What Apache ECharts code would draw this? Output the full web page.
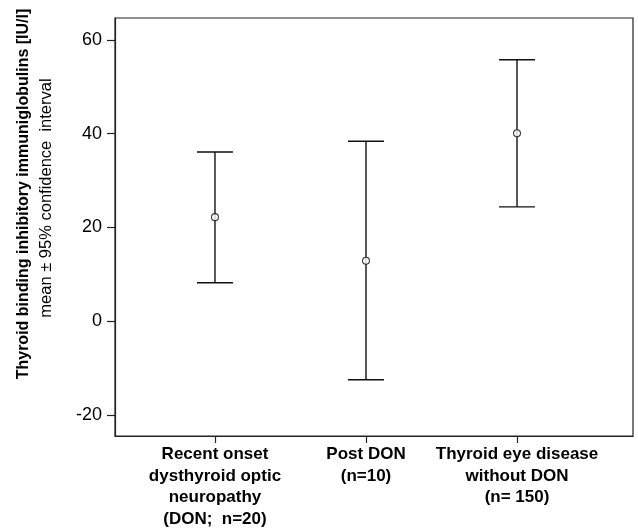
<!DOCTYPE html>
<html>
<head>
<meta charset="utf-8">
<script src="https://cdn.jsdelivr.net/npm/echarts@6/dist/echarts.min.js"></script>
<style>
html,body{margin:0;padding:0;background:#fff;}
#chart{width:638px;height:528px;}
</style>
</head>
<body>
<div id="chart"></div>
<script>
// Data
var categories = [
  "Recent onset\ndysthyroid optic\nneuropathy\n(DON;  n=20)",
  "Post DON\n(n=10)",
  "Thyroid eye disease\nwithout DON\n(n= 150)"
];
var categoryPositions = [1, 2, 3];
var means = [22.2, 12.9, 40.1];
var lowerCI = [8.2, -12.5, 24.4];
var upperCI = [36.1, 38.4, 55.8];
var yTicks = [-20, 0, 20, 40, 60];

var FONT = "'Liberation Sans', Arial, sans-serif";

var errorData = categoryPositions.map(function (x, i) { return [x, lowerCI[i], upperCI[i]]; });
var meanData = categoryPositions.map(function (x, i) { return [x, means[i]]; });

var chart = echarts.init(document.getElementById('chart'), null, { renderer: 'canvas' });
chart.setOption({
  animation: false,
  backgroundColor: '#fff',
  grid: { left: 115, right: 5, top: 18, bottom: 92, outerBoundsMode: 'none', containLabel: false, show: true, borderColor: '#222', borderWidth: 1.2, backgroundColor: 'transparent' },
  xAxis: {
    type: 'value', min: 0.338, max: 3.768,
    splitLine: { show: false },
    axisLine: { show: true, onZero: false, lineStyle: { color: '#222', width: 1.2 } },
    axisTick: { show: true, customValues: categoryPositions, length: 7, lineStyle: { color: '#222', width: 1.2 } },
    axisLabel: {
      customValues: categoryPositions,
      formatter: function (v) { return categories[Math.round(v) - 1]; },
      fontFamily: FONT, fontWeight: 'bold', fontSize: 17, lineHeight: 21.5, color: '#000', margin: 8, align: 'center'
    }
  },
  yAxis: {
    type: 'value', min: -24.5, max: 64.7,
    splitLine: { show: false },
    axisLine: { show: true, onZero: false, lineStyle: { color: '#222', width: 1.2 } },
    axisTick: { show: true, customValues: yTicks, length: 8, lineStyle: { color: '#222', width: 1.2 } },
    axisLabel: { customValues: yTicks, fontFamily: FONT, fontSize: 18, color: '#000', margin: 13 }
  },
  graphic: [
    {
      type: 'text', x: 24, y: 194, rotation: Math.PI / 2,
      style: { text: 'Thyroid binding inhibitory immuniglobulins [IU/l]', font: "bold 16px " + FONT, fill: '#000', textAlign: 'center', textVerticalAlign: 'middle' }
    },
    {
      type: 'text', x: 46, y: 198, rotation: Math.PI / 2,
      style: { text: 'mean \u00b1 95% confidence  interval', font: "16.5px " + FONT, fill: '#000', textAlign: 'center', textVerticalAlign: 'middle' }
    }
  ],
  series: [
    {
      type: 'custom',
      data: errorData,
      encode: { x: 0, y: [1, 2] },
      renderItem: function (params, api) {
        var x = api.value(0);
        var lo = api.coord([x, api.value(1)]);
        var hi = api.coord([x, api.value(2)]);
        var hw = 18;
        var st = { stroke: '#111', lineWidth: 1.4 };
        return {
          type: 'group',
          children: [
            { type: 'line', shape: { x1: lo[0], y1: lo[1], x2: hi[0], y2: hi[1] }, style: st },
            { type: 'line', shape: { x1: lo[0] - hw, y1: lo[1], x2: lo[0] + hw, y2: lo[1] }, style: st },
            { type: 'line', shape: { x1: hi[0] - hw, y1: hi[1], x2: hi[0] + hw, y2: hi[1] }, style: st }
          ]
        };
      },
      z: 2
    },
    {
      type: 'scatter',
      data: meanData,
      symbol: 'circle', symbolSize: 7,
      itemStyle: { color: '#fff', borderColor: '#111', borderWidth: 1.1 },
      z: 3
    }
  ]
});
</script>
</body>
</html>
